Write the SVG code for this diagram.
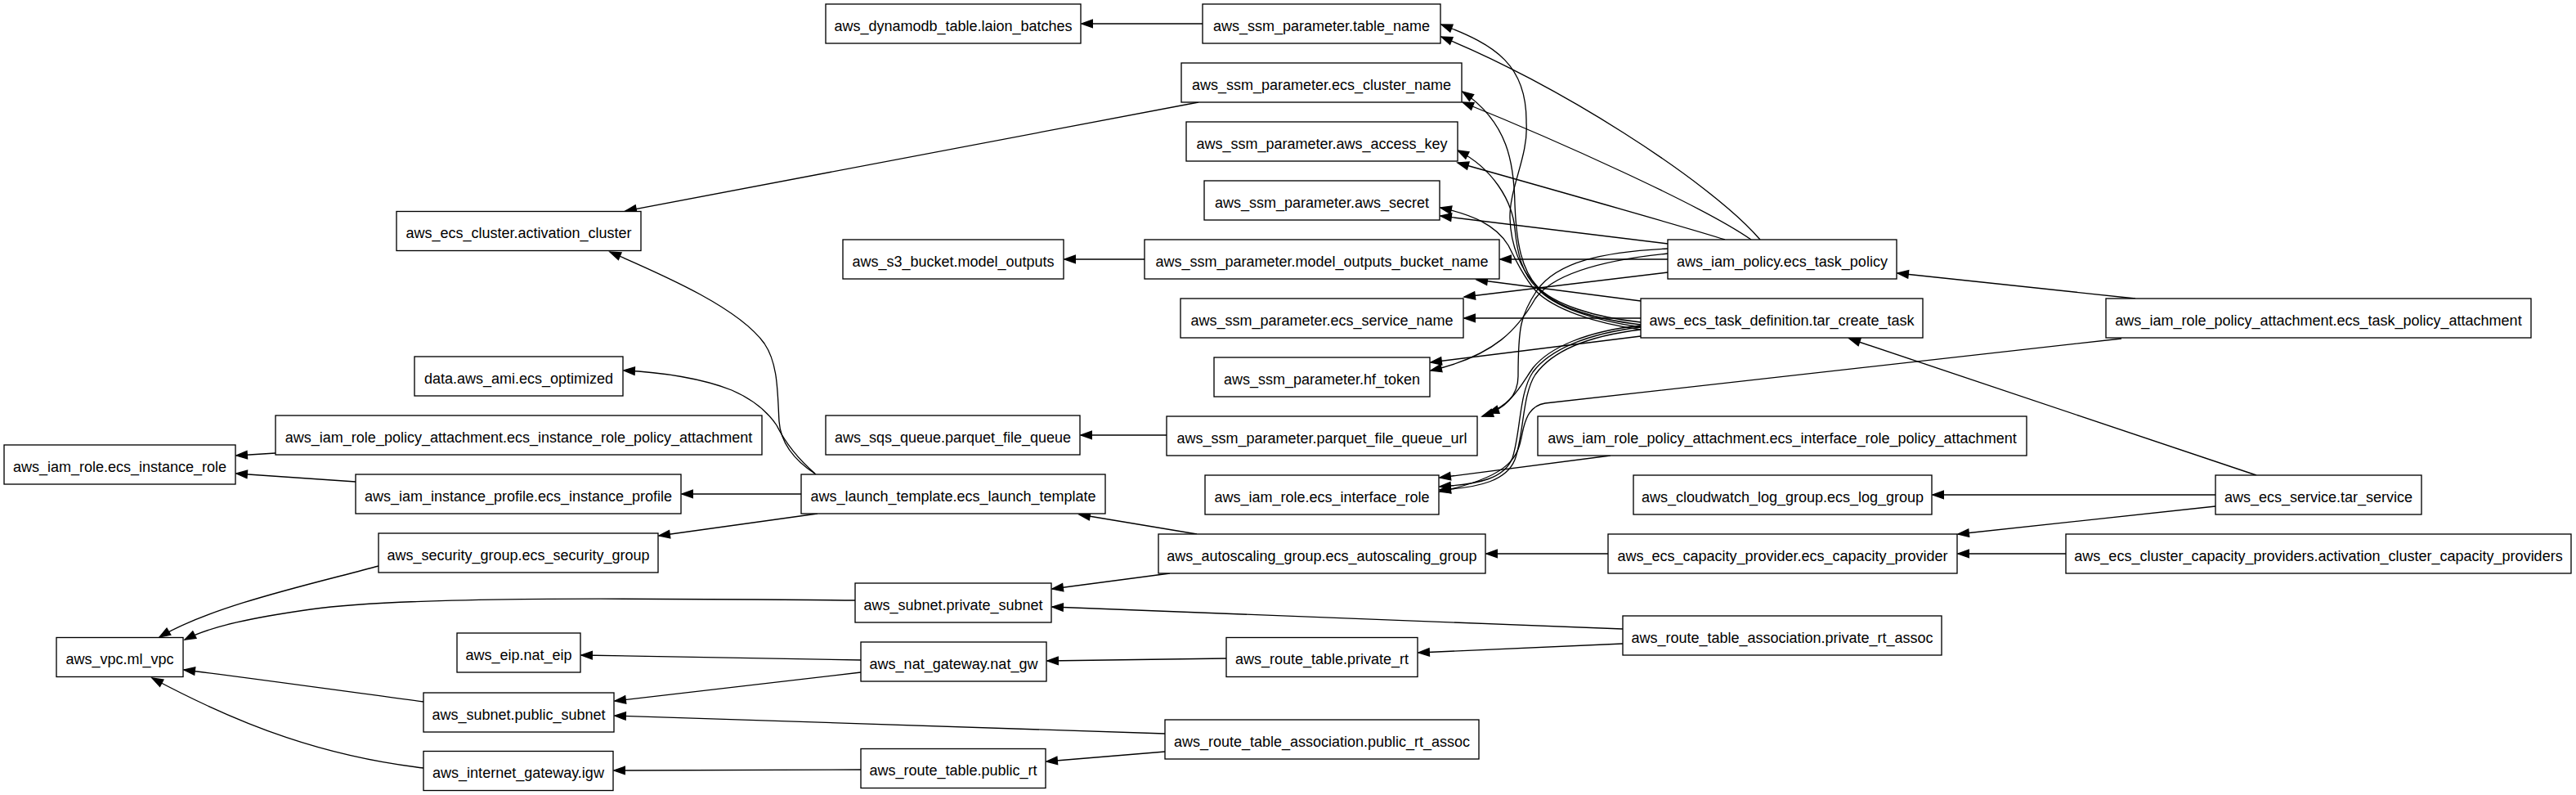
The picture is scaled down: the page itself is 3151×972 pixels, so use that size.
<svg xmlns="http://www.w3.org/2000/svg" width="3151" height="972" viewBox="0 0 3151 972">
<style>
.node rect{fill:#fff;stroke:#000;stroke-width:1.33}
.node text{font-family:"Liberation Sans",Arial,Helvetica,sans-serif;font-size:18px;fill:#000;text-anchor:middle}
.edges path{fill:none;stroke:#000;stroke-width:1.33;marker-end:url(#ah)}
</style>
<defs>
<marker id="ah" viewBox="0 0 14 10" refX="13.3" refY="5" markerWidth="14" markerHeight="10" markerUnits="userSpaceOnUse" orient="auto" overflow="visible">
<path d="M0,0.3 L13.3,5 L0,9.7 Z" fill="#000" stroke="#000" stroke-width="1.33"/>
</marker>
</defs>
<rect width="3151" height="972" fill="#fff"/>
<g class="edges">
<path d="M1471,29 L1323,29"/>
<path d="M1400,317 L1302,317"/>
<path d="M1427,532 L1322,532"/>
<path d="M1466,125 L765,258"/>
<path d="M2153,293 C2090,220 1900,100 1763,45"/>
<path d="M2142,293 C2080,250 1900,170 1789,125"/>
<path d="M2110,293 C2070,280 1900,232 1783,199"/>
<path d="M2040,298 L1762,264"/>
<path d="M2040,317 L1835,317"/>
<path d="M2040,333 L1791,363"/>
<path d="M2040,310 C1960,318 1900,335 1878,365 C1858,400 1830,435 1750,453"/>
<path d="M2040,304 C1960,308 1905,320 1880,355 C1860,385 1857,400 1857,460 C1857,485 1840,500 1813,509"/>
<path d="M2007,397 C1950,390 1900,375 1880,350 C1860,330 1848,300 1847,267 C1846,230 1870,190 1867,150 C1868,80 1830,55 1763,30"/>
<path d="M2007,394 C1950,388 1900,372 1880,350 C1862,330 1855,300 1853,250 C1852,200 1845,150 1789,112"/>
<path d="M2007,400 C1950,392 1900,375 1880,352 C1862,335 1856,310 1853,280 C1850,245 1825,205 1783,184"/>
<path d="M2007,403 C1950,395 1900,378 1878,355 C1865,340 1855,320 1845,300 C1830,275 1800,262 1762,254"/>
<path d="M2007,368 L1806,342"/>
<path d="M2007,389 L1791,389"/>
<path d="M2007,411 L1750,443"/>
<path d="M2007,398 C1940,405 1895,425 1875,450 C1862,468 1850,495 1820,505"/>
<path d="M2007,400 C1940,408 1895,428 1875,455 C1858,480 1860,530 1850,560 C1840,585 1810,592 1761,595"/>
<path d="M2007,403 C1940,411 1898,430 1878,458 C1862,482 1864,532 1853,562 C1843,587 1812,596 1761,599"/>
<path d="M2595,414 L1890,493 C1872,496 1866,510 1862,530 C1857,556 1852,582 1761,601"/>
<path d="M1970,557 L1761,584"/>
<path d="M2612,365 L2321,334"/>
<path d="M2760,581 L2262,414"/>
<path d="M2710,605 L2364,605"/>
<path d="M2710,619 L2395,653"/>
<path d="M2527,677 L2395,677"/>
<path d="M1967,677 L1818,677"/>
<path d="M1464,653 L1320,629"/>
<path d="M1431,701 L1287,720"/>
<path d="M1985,769 L1287,742"/>
<path d="M1985,787 L1735,798"/>
<path d="M1500,805 L1281,808"/>
<path d="M1425,919 L1280,931"/>
<path d="M1425,897 L752,875"/>
<path d="M1053,807 L711,801"/>
<path d="M1053,822 L752,857"/>
<path d="M1053,941 L751,942"/>
<path d="M980,604 L834,604"/>
<path d="M1000,628 L806,655"/>
<path d="M998,580 C975,565 955,545 953,515 C951,480 952,445 935,420 C905,378 820,340 746,308"/>
<path d="M997,579 C975,560 960,540 950,520 C940,505 925,490 895,477 C860,463 810,455 763,453"/>
<path d="M435,589 L289,579"/>
<path d="M337,554 L289,557"/>
<path d="M463,692 C390,712 260,740 195,779"/>
<path d="M1046,734 C800,732 500,728 380,745 C310,755 260,765 226,782"/>
<path d="M518,858 C420,845 300,828 225,819"/>
<path d="M518,939 C400,925 300,890 186,829"/>
</g>
<g id="n_ecs_instance_role" class="node"><rect x="5" y="544" width="283" height="48"/><text x="146.5" y="576.5">aws_iam_role.ecs_instance_role</text></g>
<g id="n_vpc" class="node"><rect x="69" y="779.5" width="155" height="48"/><text x="146.5" y="812">aws_vpc.ml_vpc</text></g>
<g id="n_ecs_cluster" class="node"><rect x="485" y="258.5" width="299" height="48"/><text x="634.5" y="291">aws_ecs_cluster.activation_cluster</text></g>
<g id="n_ami" class="node"><rect x="507" y="436" width="255" height="48"/><text x="634.5" y="468.5">data.aws_ami.ecs_optimized</text></g>
<g id="n_instance_role_attach" class="node"><rect x="337" y="508" width="595" height="48"/><text x="634.5" y="540.5">aws_iam_role_policy_attachment.ecs_instance_role_policy_attachment</text></g>
<g id="n_instance_profile" class="node"><rect x="435" y="580" width="398" height="48"/><text x="634" y="612.5">aws_iam_instance_profile.ecs_instance_profile</text></g>
<g id="n_security_group" class="node"><rect x="463" y="652" width="342" height="48"/><text x="634" y="684.5">aws_security_group.ecs_security_group</text></g>
<g id="n_eip" class="node"><rect x="559" y="774" width="151" height="48"/><text x="634.5" y="806.5">aws_eip.nat_eip</text></g>
<g id="n_public_subnet" class="node"><rect x="518" y="847" width="233" height="48"/><text x="634.5" y="879.5">aws_subnet.public_subnet</text></g>
<g id="n_igw" class="node"><rect x="518" y="918.5" width="232" height="48"/><text x="634" y="951">aws_internet_gateway.igw</text></g>
<g id="n_dynamodb" class="node"><rect x="1010" y="5" width="312" height="48"/><text x="1166" y="37.5">aws_dynamodb_table.laion_batches</text></g>
<g id="n_s3" class="node"><rect x="1031" y="293" width="270" height="48"/><text x="1166" y="325.5">aws_s3_bucket.model_outputs</text></g>
<g id="n_sqs" class="node"><rect x="1010" y="508" width="311" height="48"/><text x="1165.5" y="540.5">aws_sqs_queue.parquet_file_queue</text></g>
<g id="n_launch_template" class="node"><rect x="980" y="580" width="372" height="48"/><text x="1166" y="612.5">aws_launch_template.ecs_launch_template</text></g>
<g id="n_private_subnet" class="node"><rect x="1046" y="713" width="240" height="48"/><text x="1166" y="745.5">aws_subnet.private_subnet</text></g>
<g id="n_nat_gw" class="node"><rect x="1053" y="785" width="227" height="48"/><text x="1166.5" y="817.5">aws_nat_gateway.nat_gw</text></g>
<g id="n_public_rt" class="node"><rect x="1053" y="915.5" width="226" height="48"/><text x="1166" y="948">aws_route_table.public_rt</text></g>
<g id="n_ssm_table_name" class="node"><rect x="1471" y="5" width="291" height="48"/><text x="1616.5" y="37.5">aws_ssm_parameter.table_name</text></g>
<g id="n_ssm_ecs_cluster_name" class="node"><rect x="1445" y="77" width="343" height="48"/><text x="1616.5" y="109.5">aws_ssm_parameter.ecs_cluster_name</text></g>
<g id="n_ssm_aws_access_key" class="node"><rect x="1451" y="149" width="332" height="48"/><text x="1617" y="181.5">aws_ssm_parameter.aws_access_key</text></g>
<g id="n_ssm_aws_secret" class="node"><rect x="1473" y="221" width="288" height="48"/><text x="1617" y="253.5">aws_ssm_parameter.aws_secret</text></g>
<g id="n_ssm_bucket_name" class="node"><rect x="1400" y="293" width="434" height="48"/><text x="1617" y="325.5">aws_ssm_parameter.model_outputs_bucket_name</text></g>
<g id="n_ssm_ecs_service_name" class="node"><rect x="1444" y="365" width="346" height="48"/><text x="1617" y="397.5">aws_ssm_parameter.ecs_service_name</text></g>
<g id="n_ssm_hf_token" class="node"><rect x="1485" y="437" width="264" height="48"/><text x="1617" y="469.5">aws_ssm_parameter.hf_token</text></g>
<g id="n_ssm_parquet_url" class="node"><rect x="1427" y="509" width="380" height="48"/><text x="1617" y="541.5">aws_ssm_parameter.parquet_file_queue_url</text></g>
<g id="n_interface_role" class="node"><rect x="1474" y="581" width="286" height="48"/><text x="1617" y="613.5">aws_iam_role.ecs_interface_role</text></g>
<g id="n_autoscaling" class="node"><rect x="1417" y="653" width="400" height="48"/><text x="1617" y="685.5">aws_autoscaling_group.ecs_autoscaling_group</text></g>
<g id="n_private_rt" class="node"><rect x="1500" y="779.5" width="234" height="48"/><text x="1617" y="812">aws_route_table.private_rt</text></g>
<g id="n_public_rt_assoc" class="node"><rect x="1425" y="880" width="384" height="48"/><text x="1617" y="912.5">aws_route_table_association.public_rt_assoc</text></g>
<g id="n_task_policy" class="node"><rect x="2040" y="293" width="280" height="48"/><text x="2180" y="325.5">aws_iam_policy.ecs_task_policy</text></g>
<g id="n_task_def" class="node"><rect x="2007" y="365" width="345" height="48"/><text x="2179.5" y="397.5">aws_ecs_task_definition.tar_create_task</text></g>
<g id="n_interface_role_attach" class="node"><rect x="1881" y="509" width="598" height="48"/><text x="2180" y="541.5">aws_iam_role_policy_attachment.ecs_interface_role_policy_attachment</text></g>
<g id="n_log_group" class="node"><rect x="1998" y="581" width="365" height="48"/><text x="2180.5" y="613.5">aws_cloudwatch_log_group.ecs_log_group</text></g>
<g id="n_capacity_provider" class="node"><rect x="1967" y="653" width="427" height="48"/><text x="2180.5" y="685.5">aws_ecs_capacity_provider.ecs_capacity_provider</text></g>
<g id="n_private_rt_assoc" class="node"><rect x="1985" y="753" width="390" height="48"/><text x="2180" y="785.5">aws_route_table_association.private_rt_assoc</text></g>
<g id="n_task_policy_attach" class="node"><rect x="2576" y="365" width="520" height="48"/><text x="2836" y="397.5">aws_iam_role_policy_attachment.ecs_task_policy_attachment</text></g>
<g id="n_ecs_service" class="node"><rect x="2710" y="581" width="252" height="48"/><text x="2836" y="613.5">aws_ecs_service.tar_service</text></g>
<g id="n_cluster_cap" class="node"><rect x="2527" y="653" width="618" height="48"/><text x="2836" y="685.5">aws_ecs_cluster_capacity_providers.activation_cluster_capacity_providers</text></g>
</svg>
